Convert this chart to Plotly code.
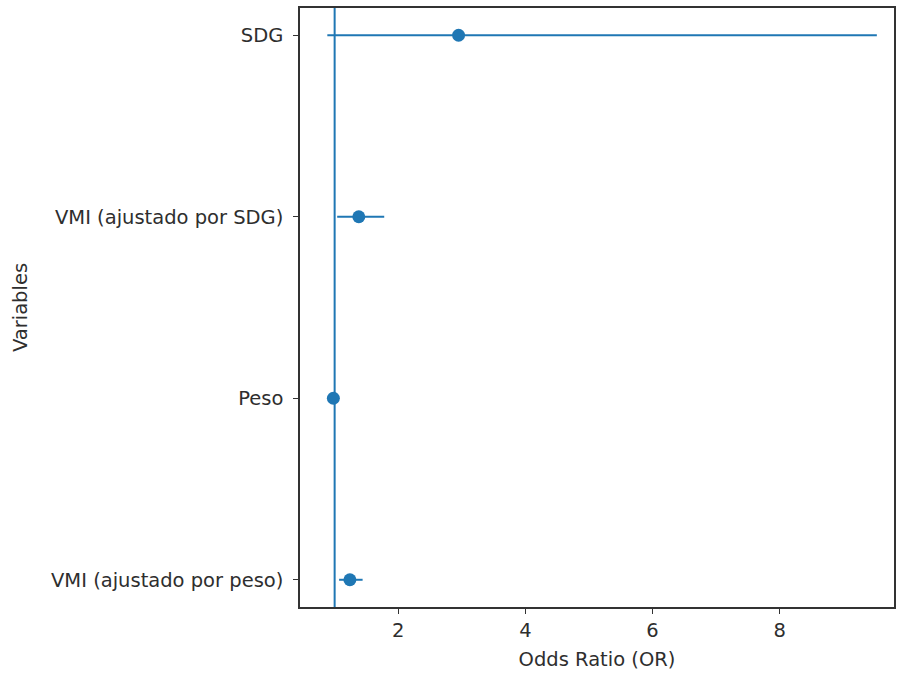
import plotly.graph_objects as go

# Forest plot data (odds ratios with confidence intervals)
variables = ["SDG", "VMI (ajustado por SDG)", "Peso", "VMI (ajustado por peso)"]
odds_ratio = [2.95, 1.38, 0.98, 1.24]
ci_lower = [0.885, 1.04, 0.96, 1.07]
ci_upper = [9.53, 1.78, 1.00, 1.44]
REF_OR = 1

BLUE = "#1f77b4"
FONT = "DejaVu Sans"
TEXT = "#2e2e2e"
SIZE = 19.5

err_plus = [u - o for u, o in zip(ci_upper, odds_ratio)]
err_minus = [o - l for o, l in zip(odds_ratio, ci_lower)]

fig = go.Figure()
fig.add_trace(go.Scatter(
    x=odds_ratio, y=variables, mode="markers",
    marker=dict(color=BLUE, size=13),
    error_x=dict(type="data", symmetric=False, array=err_plus, arrayminus=err_minus,
                 color=BLUE, thickness=2, width=0),
    showlegend=False,
))
fig.add_vline(x=REF_OR, line=dict(color=BLUE, width=2), layer="below")

bottom_to_top = variables[::-1]
axis_common = dict(
    showgrid=False, zeroline=False,
    showline=True, linecolor="#333333", linewidth=1.5, mirror=True,
    ticks="outside", ticklen=5, tickcolor="#333333",
    tickfont=dict(family=FONT, size=SIZE, color=TEXT),
)
fig.update_layout(
    width=898, height=673,
    margin=dict(l=300, r=2, t=8, b=66),
    plot_bgcolor="white", paper_bgcolor="white",
    font=dict(family=FONT, size=SIZE, color=TEXT),
    xaxis=dict(
        range=[0.455, 9.8], tickvals=[2, 4, 6, 8],
        title=dict(text="Odds Ratio (OR)", standoff=11,
                   font=dict(family=FONT, size=SIZE, color=TEXT)),
        **axis_common,
    ),
    yaxis=dict(
        type="category", categoryorder="array", categoryarray=bottom_to_top,
        range=[-0.15, 3.15], ticklabelstandoff=6,
        title=dict(text="Variables", standoff=18,
                   font=dict(family=FONT, size=SIZE, color=TEXT)),
        **axis_common,
    ),
)

fig.write_html("out.html")
